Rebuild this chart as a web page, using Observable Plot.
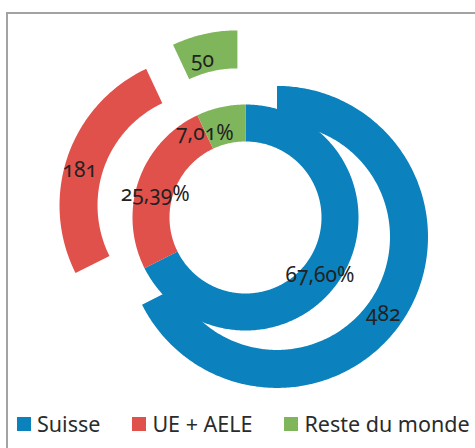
<!DOCTYPE html>
<html><head><meta charset="utf-8">
<script src="https://cdn.jsdelivr.net/npm/d3@7"></script>
<script src="https://cdn.jsdelivr.net/npm/@observablehq/plot@0.6"></script>
<style>
body{margin:0;background:#fff;font-family:"Noto Sans",sans-serif;width:475px;height:448px;overflow:hidden;position:relative;}
#frame{position:absolute;left:6px;top:12px;width:520px;height:480px;border-left:2px solid #a3a3a3;border-top:2px solid #a3a3a3;box-sizing:border-box;}
#chart{position:absolute;left:0;top:0;}
#chart svg text{font-variant-numeric:oldstyle-nums;}
#legend{position:absolute;left:17px;top:411px;display:flex;align-items:center;font-size:21.5px;color:#2b2b2b;white-space:nowrap;line-height:26px;}
#legend .item{display:flex;align-items:center;margin-right:32px;}
#legend .sw{width:14px;height:14px;margin-right:6px;flex:none;}
</style>
</head><body>
<div id="frame"></div>
<div id="chart"></div>
<div id="legend"></div>
<script>
// ---- data ----
const categories = ["Suisse", "UE + AELE", "Reste du monde"];
const counts = [482, 181, 50];
const shares = [67.60, 25.39, 7.01];
const shareLabels = ["67,60%", "25,39%", "7,01%"];
const countLabels = ["482", "181", "50"];
const colors = ["#0B81BD", "#E0514B", "#7FB65B"];

// ---- layout ----
const W = 475, H = 400;
const CX = 245, CY = 217;
const innerR0 = 76, innerR1 = 113;
const outerR0 = 113, outerR1 = 151;
const explode = 37;
const labelDx = -6, labelDy = 8;
const labelShift = {"7,01%": -14, "25,39%": 5};

function angles(vals) {
  const total = d3.sum(vals);
  let acc = 0;
  return vals.map(v => { const a0 = acc / total * 2 * Math.PI; acc += v; return [a0, acc / total * 2 * Math.PI]; });
}
const pt = (cx, cy, r, a) => [cx + r * Math.sin(a), cy - r * Math.cos(a)];

const polys = [];
const labels = [];
function ring(vals, r0, r1, off, texts, tag) {
  angles(vals).forEach(([a0, a1], i) => {
    const mid = (a0 + a1) / 2;
    const [cx, cy] = pt(CX, CY, off, mid);
    const n = Math.max(8, Math.ceil((a1 - a0) * 80));
    const id = tag + i;
    for (let k = 0; k <= n; k++) { const a = a0 + (a1 - a0) * k / n; const [x, y] = pt(cx, cy, r1, a); polys.push({id, cat: categories[i], x, y}); }
    for (let k = n; k >= 0; k--) { const a = a0 + (a1 - a0) * k / n; const [x, y] = pt(cx, cy, r0, a); polys.push({id, cat: categories[i], x, y}); }
    const [lx, ly] = pt(cx, cy, (r0 + r1) / 2, mid);
    labels.push({x: lx + labelDx + (labelShift[texts[i]] || 0), y: ly + labelDy, text: texts[i]});
  });
}
ring(shares, innerR0, innerR1, 0, shareLabels, "in");
ring(counts, outerR0, outerR1, explode, countLabels, "out");

const chart = Plot.plot({
  width: W, height: H, margin: 0,
  style: {background: "transparent", fontFamily: "'Noto Sans', sans-serif"},
  x: {domain: [0, W], range: [0, W], axis: null},
  y: {domain: [0, H], range: [0, H], axis: null},
  color: {domain: categories, range: colors},
  marks: [
    Plot.line(polys, {x: "x", y: "y", z: "id", fill: "cat", stroke: "none", curve: "linear-closed"}),
    Plot.text(labels, {x: "x", y: "y", text: "text", fontSize: 21, fill: "#222"})
  ]
});
document.getElementById("chart").appendChild(chart);

const leg = d3.select("#legend");
categories.forEach((c, i) => {
  const it = leg.append("div").attr("class", "item");
  it.append("div").attr("class", "sw").style("background", colors[i]);
  it.append("span").text(c);
});
</script>
</body></html>
